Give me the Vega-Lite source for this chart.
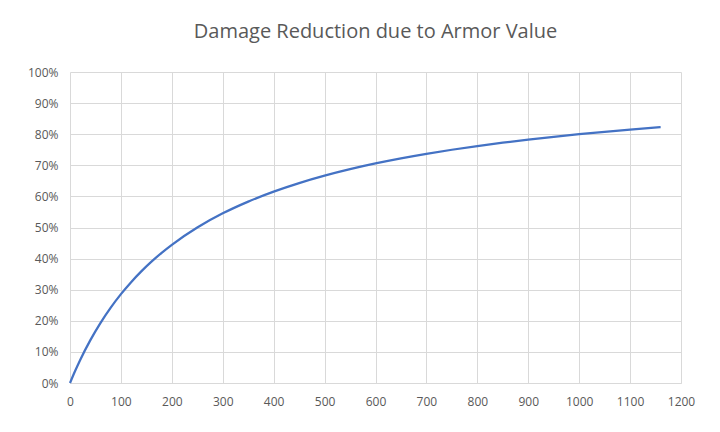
{
  "$schema": "https://vega.github.io/schema/vega-lite/v6.json",
  "autosize": "none",
  "width": 611,
  "height": 311,
  "padding": {"left": 70, "top": 72, "right": 39, "bottom": 49},
  "background": "white",
  "title": {
    "text": "Damage Reduction due to Armor Value",
    "fontSize": 20,
    "font": "Open Sans",
    "fontWeight": "normal",
    "color": "#595959",
    "anchor": "middle",
    "offset": 24
  },
  "data": {
    "values": [
      {"armor": 0, "reduction": 0},
      {"armor": 10, "reduction": 0.0385},
      {"armor": 20, "reduction": 0.0741},
      {"armor": 40, "reduction": 0.1379},
      {"armor": 60, "reduction": 0.1935},
      {"armor": 80, "reduction": 0.2424},
      {"armor": 100, "reduction": 0.2857},
      {"armor": 120, "reduction": 0.3243},
      {"armor": 140, "reduction": 0.359},
      {"armor": 160, "reduction": 0.3902},
      {"armor": 180, "reduction": 0.4186},
      {"armor": 200, "reduction": 0.4444},
      {"armor": 250, "reduction": 0.5},
      {"armor": 300, "reduction": 0.5455},
      {"armor": 350, "reduction": 0.5833},
      {"armor": 400, "reduction": 0.6154},
      {"armor": 450, "reduction": 0.6429},
      {"armor": 500, "reduction": 0.6667},
      {"armor": 550, "reduction": 0.6875},
      {"armor": 600, "reduction": 0.7059},
      {"armor": 650, "reduction": 0.7222},
      {"armor": 700, "reduction": 0.7368},
      {"armor": 750, "reduction": 0.75},
      {"armor": 800, "reduction": 0.7619},
      {"armor": 850, "reduction": 0.7727},
      {"armor": 900, "reduction": 0.7826},
      {"armor": 950, "reduction": 0.7917},
      {"armor": 1000, "reduction": 0.8},
      {"armor": 1050, "reduction": 0.8077},
      {"armor": 1100, "reduction": 0.8148},
      {"armor": 1160, "reduction": 0.8227}
    ]
  },
  "mark": {"type": "line", "color": "#4472C4", "strokeWidth": 2.25, "interpolate": "monotone"},
  "encoding": {
    "x": {
      "field": "armor",
      "type": "quantitative",
      "scale": {"domain": [0, 1200], "nice": false},
      "axis": {"values": [0,100,200,300,400,500,600,700,800,900,1000,1100,1200], "format": "d", "title": null, "labelPadding": 13, "labelFlush": false, "labelOverlap": false}
    },
    "y": {
      "field": "reduction",
      "type": "quantitative",
      "scale": {"domain": [0, 1], "nice": false},
      "axis": {"values": [0,0.1,0.2,0.3,0.4,0.5,0.6,0.7,0.8,0.9,1], "format": ".0%", "title": null, "labelPadding": 12}
    }
  },
  "config": {
    "view": {"stroke": null},
    "axis": {
      "labelFont": "Open Sans",
      "labelFontSize": 12,
      "labelColor": "#595959",
      "ticks": false,
      "domain": false,
      "gridColor": "#d9d9d9",
      "gridWidth": 1
    },
    "axisX": {"domain": true, "domainColor": "#d9d9d9"}
  }
}
